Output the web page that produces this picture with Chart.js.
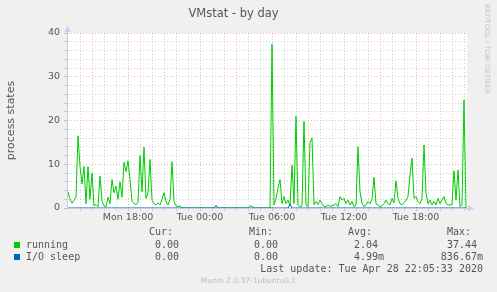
<!DOCTYPE html>
<html>
<head>
<meta charset="utf-8">
<title>VMstat - by day</title>
<script src="https://cdn.jsdelivr.net/npm/chart.js@4.4.1/dist/chart.umd.min.js"></script>
<style>
  html, body { margin: 0; padding: 0; background: #f0f0f0; }
  #wrap { position: relative; width: 497px; height: 292px; overflow: hidden; }
  #chart { position: absolute; left: 0; top: 0; }
  .t { position: absolute; font-family: "DejaVu Sans Mono", monospace; font-size: 10px; line-height: 12px; color: #555; white-space: pre; }
  .sw { position: absolute; width: 6px; height: 6px; }
  #rrd { position: absolute; left: 483px; top: 4px; writing-mode: vertical-rl; font-family: "DejaVu Sans", sans-serif; font-size: 7px; color: #c4c4c4; }
  #munin { position: absolute; left: 0; width: 497px; top: 276px; text-align: center; font-family: "DejaVu Sans", sans-serif; font-size: 7.5px; color: #bdbdbd; }
</style>
</head>
<body>
<div id="wrap">
  <canvas id="chart" width="497" height="292"></canvas>
  <div id="rrd">RRDTOOL / TOBI OETIKER</div>
  <div id="munin">Munin 2.0.37-1ubuntu0.1</div>
</div>
<script>
// ===== VMstat by day =====

// time axis: hours since Mon 00:00, one sample every 10 minutes
const startHour = 13;
const stepHours = 1 / 6;

// running processes (every 10 min, Mon 13:00 -> Tue 22:10)
const running = [
  3.7, 2.0, 1.1, 1.8, 2.5, 16.5, 9.5, 5.5, 9.5, 1.0,
  9.5, 2.0, 8.0, 0.5, 0.8, 0.3, 7.3, 1.5, 0.5, 0.3,
  2.5, 1.0, 6.5, 3.5, 5.0, 2.0, 6.0, 2.5, 10.5, 8.3,
  10.8, 6.5, 1.5, 1.0, 0.8, 1.2, 12.0, 3.7, 13.9, 2.2,
  3.4, 11.1, 1.8, 1.0, 0.7, 1.2, 0.7, 2.0, 3.5, 1.5,
  0.7, 2.0, 10.6, 1.5, 0.5, 0.3, 0.5, 0, 0, 0,
  0, 0, 0, 0, 0, 0, 0, 0, 0, 0,
  0, 0, 0, 0, 0, 0, 0, 0, 0, 0,
  0, 0, 0, 0, 0, 0, 0, 0, 0, 0,
  0, 0.5, 0.4, 0, 0, 0, 0, 0, 0, 0,
  0, 0, 37.44, 0.7, 2.2, 4.5, 6.5, 1.0, 2.6, 1.0,
  1.8, 0.5, 9.8, 1.0, 21.0, 0.7, 0.3, 0.5, 19.8, 0.7,
  0.3, 15.0, 16.0, 0.7, 1.5, 0.8, 1.8, 1.0, 0.4, 0.3,
  0.7, 0.4, 0.5, 0.7, 1.0, 0.3, 2.6, 1.8, 2.2, 1.0,
  1.8, 0.7, 1.5, 0.3, 0.7, 14.0, 3.7, 1.0, 0.3, 0.7,
  1.5, 1.0, 2.0, 7.0, 1.0, 0.7, 0.3, 0.5, 1.0, 1.8,
  1.0, 0.7, 2.2, 1.2, 6.2, 2.2, 1.0, 0.7, 1.2, 1.8,
  2.6, 7.5, 11.4, 2.2, 2.6, 1.5, 1.0, 2.2, 14.4, 3.4,
  1.0, 1.8, 0.7, 1.5, 0.7, 2.2, 1.0, 1.8, 2.6, 1.0,
  0.7, 0.7, 0.8, 8.5, 1.8, 8.7, 0.3, 0.7, 24.7, 0
];

// processes in I/O sleep
const ioSleep = [
  0, 0, 0, 0, 0, 0, 0, 0, 0, 0,
  0, 0, 0, 0, 0, 0, 0, 0, 0, 0,
  0, 0, 0, 0, 0, 0, 0, 0, 0, 0,
  0, 0, 0, 0, 0, 0, 0, 0, 0, 0,
  0, 0, 0, 0, 0, 0, 0, 0, 0, 0,
  0, 0, 0, 0, 0, 0, 0, 0, 0, 0,
  0, 0, 0, 0, 0, 0, 0, 0, 0, 0,
  0, 0, 0, 0, 0.6, 0, 0, 0, 0, 0,
  0, 0, 0, 0, 0, 0, 0, 0, 0, 0,
  0, 0, 0, 0, 0, 0, 0, 0, 0, 0,
  0, 0, 0, 0, 0, 0, 0, 0, 0, 0,
  0, 0.84, 0, 0, 0, 0, 0, 0, 0, 0,
  0, 0, 0, 0, 0, 0, 0, 0, 0, 0,
  0, 0, 0, 0, 0, 0, 0, 0, 0, 0,
  0, 0, 0, 0, 0, 0, 0, 0, 0, 0,
  0, 0, 0, 0, 0, 0, 0, 0, 0, 0,
  0, 0, 0, 0, 0, 0, 0, 0, 0, 0,
  0, 0, 0, 0, 0, 0, 0, 0, 0, 0,
  0, 0, 0, 0, 0, 0, 0, 0, 0, 0,
  0, 0, 0, 0, 0, 0, 0, 0, 0, 0
];

// tick labels
const xTickHours = [18, 24, 30, 36, 42];
const xTickLabels = ['Mon 18:00', 'Tue 00:00', 'Tue 06:00', 'Tue 12:00', 'Tue 18:00'];
const yTickLabels = [0, 10, 20, 30, 40];

// legend table
const seriesNames = ['running', 'I/O sleep'];
const seriesColors = ['#00cc00', '#0066b3'];
const statCur = ['0.00 ', '0.00 '];
const statMin = ['0.00 ', '0.00 '];
const statAvg = ['2.04 ', '4.99m'];
const statMax = ['37.44 ', '836.67m'];
const lastUpdate = 'Last update: Tue Apr 28 22:05:33 2020';

const axisColor = '#c8cdf0';
const minorGrid = 'rgba(150,150,150,0.42)';
const majorGrid = 'rgba(235,90,90,0.45)';

const toPoints = arr => arr.map((v, i) => ({ x: startHour + i * stepHours, y: v }));

// white plot area + axis arrows
const muninFrame = {
    id: 'muninFrame',
    beforeDraw(chart) {
        const { ctx, chartArea: a } = chart;
        ctx.save();
        ctx.fillStyle = '#ffffff';
        ctx.fillRect(a.left, a.top, a.right - a.left, a.bottom - a.top);
        ctx.restore();
    },
    afterDraw(chart) {
        const { ctx, chartArea: a } = chart;
        ctx.save();
        ctx.fillStyle = axisColor;
        ctx.strokeStyle = axisColor;
        ctx.lineWidth = 1;
        // y arrow
        ctx.beginPath();
        ctx.moveTo(a.left + 0.5, a.bottom);
        ctx.lineTo(a.left + 0.5, a.top - 3);
        ctx.stroke();
        ctx.beginPath();
        ctx.moveTo(a.left + 0.5, a.top - 7);
        ctx.lineTo(a.left - 2.5, a.top - 1);
        ctx.lineTo(a.left + 3.5, a.top - 1);
        ctx.closePath();
        ctx.fill();
        // x arrow
        ctx.beginPath();
        ctx.moveTo(a.right, a.bottom + 0.5);
        ctx.lineTo(a.right + 3, a.bottom + 0.5);
        ctx.stroke();
        ctx.beginPath();
        ctx.moveTo(a.right + 7, a.bottom + 0.5);
        ctx.lineTo(a.right + 1, a.bottom - 2.5);
        ctx.lineTo(a.right + 1, a.bottom + 3.5);
        ctx.closePath();
        ctx.fill();
        ctx.restore();
    }
};

function buildLegend() {
    const wrap = document.getElementById('wrap');
    const add = (text, x, y, right) => {
        const d = document.createElement('div');
        d.className = 't';
        d.textContent = text;
        d.style.top = (y - 6) + 'px';
        if (right) d.style.right = (497 - x) + 'px';
        else d.style.left = x + 'px';
        wrap.appendChild(d);
    };
    add('Cur:', 149, 232);
    add('Min:', 249, 232);
    add('Avg:', 348, 232);
    add('Max:', 447, 232);
    seriesNames.forEach((name, i) => {
        const y = 245 + i * 12;
        const sw = document.createElement('div');
        sw.className = 'sw';
        sw.style.left = '14px';
        sw.style.top = (y - 3) + 'px';
        sw.style.background = seriesColors[i];
        wrap.appendChild(sw);
        add(name, 26, y);
        add(statCur[i], 185, y, true);
        add(statMin[i], 284, y, true);
        add(statAvg[i], 384, y, true);
        add(statMax[i], 483, y, true);
    });
    add(lastUpdate, 483, 269, true);
}

function renderChart() {
    const ctx = document.getElementById('chart').getContext('2d');
    Chart.defaults.font.family = '"DejaVu Sans", sans-serif';
    Chart.defaults.color = '#555';

    new Chart(ctx, {
        type: 'line',
        data: {
            datasets: [
                {
                    label: seriesNames[0],
                    data: toPoints(running),
                    borderColor: seriesColors[0],
                    borderWidth: 1,
                    order: 2
                },
                {
                    label: seriesNames[1],
                    data: toPoints(ioSleep),
                    borderColor: seriesColors[1],
                    borderWidth: 1,
                    order: 1
                }
            ]
        },
        options: {
            responsive: false,
            animation: false,
            events: [],
            layout: { padding: { top: 0, left: 0, right: 30, bottom: 64 } },
            elements: { point: { radius: 0 }, line: { tension: 0 } },
            plugins: {
                legend: { display: false },
                tooltip: { enabled: false },
                title: {
                    display: true,
                    text: 'VMstat - by day',
                    color: '#555',
                    font: { size: 11.5, weight: 'normal' },
                    padding: { top: 7, bottom: 12.2 }
                }
            },
            scales: {
                x: {
                    type: 'linear',
                    min: startHour - 1 / 12,
                    max: 46.25,
                    afterFit: s => { s.height = 20; },
                    afterBuildTicks: s => {
                        const t = [];
                        for (let h = 14; h <= 46; h++) t.push({ value: h });
                        s.ticks = t;
                    },
                    ticks: {
                        autoSkip: false,
                        maxRotation: 0,
                        minRotation: 0,
                        padding: 1,
                        font: { size: 9.5 },
                        color: '#555',
                        callback: v => {
                            const k = xTickHours.indexOf(v);
                            return k >= 0 ? xTickLabels[k] : '';
                        }
                    },
                    grid: {
                        tickLength: 3,
                        color: c => (c.tick && c.tick.value % 3 === 0 ? majorGrid : minorGrid),
                        tickColor: c => (c.tick && c.tick.value % 3 === 0 ? majorGrid : minorGrid)
                    },
                    border: { color: axisColor, dash: [1, 2] }
                },
                y: {
                    min: 0,
                    max: 40,
                    afterFit: s => { s.width = 67; },
                    title: {
                        display: true,
                        text: 'process states',
                        color: '#555',
                        font: { size: 11 },
                        padding: { top: 5, bottom: 0 }
                    },
                    ticks: {
                        stepSize: 2,
                        autoSkip: false,
                        padding: 4,
                        font: { size: 9.5 },
                        color: '#555',
                        callback: v => (yTickLabels.includes(v) ? String(v) : '')
                    },
                    grid: {
                        tickLength: 3,
                        color: c => (c.tick && c.tick.value % 10 === 0 ? majorGrid : minorGrid),
                        tickColor: c => (c.tick && c.tick.value % 10 === 0 ? majorGrid : minorGrid)
                    },
                    border: { color: axisColor, dash: [1, 2] }
                }
            }
        },
        plugins: [muninFrame]
    });
}

buildLegend();
renderChart();
</script>
</body>
</html>
